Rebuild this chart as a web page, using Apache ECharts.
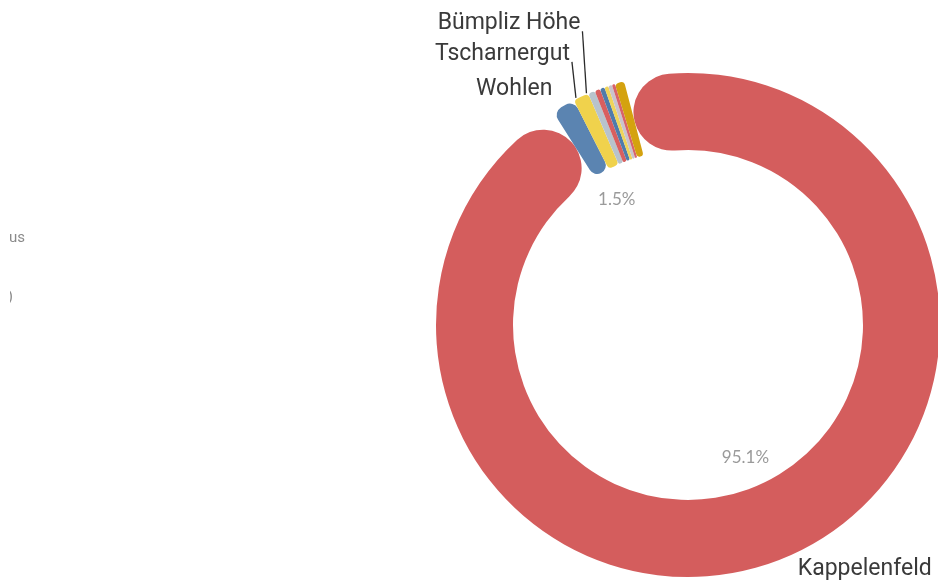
<!DOCTYPE html>
<html>
<head>
<meta charset="utf-8">
<script src="https://cdn.jsdelivr.net/npm/echarts@6/dist/echarts.min.js"></script>
<style>html,body{margin:0;padding:0;background:#fff;}#c{width:938px;height:580px;}</style>
</head>
<body>
<div id="c"></div>
<script>
// Data (percent shares)
const names = ['Kappelenfeld','Wohlen','Tscharnergut','Bümpliz Höhe','Stöckacker','Bethlehemacker','Holenacker','Gäbelbach','Brünnen','Riedbach'];
const values = [95.1, 1.5, 1.0, 0.45, 0.35, 0.3, 0.25, 0.25, 0.2, 0.6];
const colors = ['#d45d5d','#5b84b1','#f0d24c','#b8c3cc','#d85f5f','#4f7bab','#efd45a','#c9c4cc','#d8636b','#d4a20f'];
const nameLabelShown = ['Kappelenfeld','Wohlen','Tscharnergut','Bümpliz Höhe'];
const pctLabelShown = ['Kappelenfeld','Wohlen'];
const stackedLabels = ['Wohlen','Tscharnergut','Bümpliz Höhe'];

const chart = echarts.init(document.getElementById('c'));
const ringData = names.map((n,i)=>({
  name:n, value:values[i],
  itemStyle:{color:colors[i], borderRadius: i===0 ? 40 : (i===1 ? 9 : 4)},
  label:{show: nameLabelShown.includes(n)},
  labelLine:{show: stackedLabels.includes(n) && n!=='Wohlen'}
}));
const pctData = names.map((n,i)=>({
  name:n, value:values[i],
  label:{show: pctLabelShown.includes(n)}
}));
chart.setOption({
  animation:false,
  graphic:[
    {type:'text', right: 913, top: 231, style:{text:'Campus', font:'15px Roboto', fill:'#8a8a8a'}},
    {type:'text', right: 925, top: 290, style:{text:'Bethlehem (Nord)', font:'15px Roboto', fill:'#8a8a8a'}},
    {type:'rect', left:0, top:200, shape:{x:0,y:0,width:10,height:120}, style:{fill:'#fff'}, z:100}
  ],
  series:[
    {
      type:'pie',
      center:[688,325],
      radius:[175,252],
      startAngle:104.7,
      clockwise:true,
      avoidLabelOverlap:false,
      label:{position:'outside', formatter:'{b}', color:'#3a3a3a', fontFamily:'Roboto', fontSize:23},
      labelLine:{length:8, length2:4, lineStyle:{color:'#2a2a2a', width:1.3}},
      labelLayout:function(p){
        const n = names[p.dataIndex];
        if (n === 'Kappelenfeld') return {dx: -3, dy: 6};
        const k = stackedLabels.indexOf(n);
        if (k < 0 || !p.labelLinePoints) return {};
        const p0 = p.labelLinePoints[0];
        const cy = p0[1] - 17 - 26*k;
        return {
          x: p0[0] - 11, y: cy, align:'right', verticalAlign:'middle',
          labelLinePoints:[[p0[0]-5,p0[1]+1],[p0[0]-9, cy+8],[p0[0]-9, cy+8]]
        };
      },
      emphasis:{disabled:true},
      data:ringData
    },
    {
      type:'pie',
      silent:true,
      center:[688,325],
      radius:[0,282],
      startAngle:104.7,
      clockwise:true,
      itemStyle:{color:'rgba(0,0,0,0)'},
      label:{position:'inside', formatter:'{c}%', color:'#9a9a9a', fontFamily:'Lato', fontSize:17},
      labelLine:{show:false},
      emphasis:{disabled:true},
      data:pctData
    }
  ]
});
</script>
</body>
</html>
